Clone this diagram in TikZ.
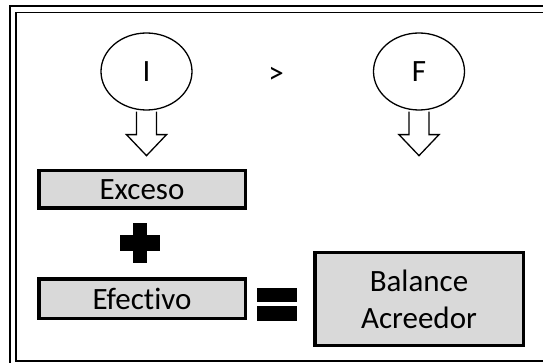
\documentclass[tikz,border=0pt]{standalone}
\usepackage{fontspec}
\setmainfont{Carlito}[Ligatures={NoCommon}]
\usetikzlibrary{shapes.geometric}
\definecolor{boxgray}{HTML}{D9D9D9}
\tikzset{
  bubble/.style={draw, ellipse, line width=1.3pt, minimum width=91pt, minimum height=77pt,
    inner sep=0pt, font=\fontsize{31}{37}\selectfont},
  termbox/.style={draw, fill=boxgray, line width=3.5pt, inner sep=0pt, align=center,
    font=\fontsize{31}{37}\selectfont},
  hollowarrow/.style={draw, line width=1.3pt, line join=miter},
  framelineA/.style={draw, line width=2pt},
  framelineB/.style={draw, line width=1.6pt},
}
\begin{document}
\begin{tikzpicture}[x=1pt,y=-1pt]
  \useasboundingbox (0,0) rectangle (543,363);
  \clip (0,0) rectangle (543,363);
  % double frame
  \path[framelineA] (10,6) rectangle (570,390);
  \path[framelineB] (16,12.5) rectangle (570,361);

  % top row: I > F
  \node[bubble] (I) at (146.5,71.5) {I};
  \node[bubble] (F) at (419,71.5) {F};
  \node[font=\fontsize{31}{37}\selectfont] (gt) at (276,75) {>};

  % hollow arrows under the bubbles
  \foreach \b in {I,F}{
    \draw[hollowarrow] ([xshift=-10pt,yshift=-1pt]\b.south) -- ++(0,23) -- ++(-10,0)
      -- ++(20,21) -- ++(20,-21) -- ++(-10,0) -- ++(0,-23);
  }

  % terms
  \node[termbox, minimum width=206.5pt, minimum height=37.5pt] (exc) at (142,189.5) {Exceso};
  \node[termbox, minimum width=206.5pt, minimum height=39.5pt] (efe) at (142,298.5) {Efectivo};
  \node[termbox, minimum width=208.5pt, minimum height=92.5pt] (bal) at (419,299) {Balance\\Acreedor};

  % plus sign
  \coordinate (plus) at (140,243);
  \fill ([xshift=-7pt,yshift=-20pt]plus) rectangle ([xshift=7pt,yshift=20pt]plus);
  \fill ([xshift=-20pt,yshift=-8pt]plus) rectangle ([xshift=20pt,yshift=8pt]plus);

  % equals sign
  \coordinate (eq) at (277,304);
  \fill ([xshift=-20pt,yshift=-17pt]eq) rectangle ([xshift=20pt,yshift=-2pt]eq);
  \fill ([xshift=-20pt,yshift=2pt]eq) rectangle ([xshift=20pt,yshift=16pt]eq);
\end{tikzpicture}
\end{document}
